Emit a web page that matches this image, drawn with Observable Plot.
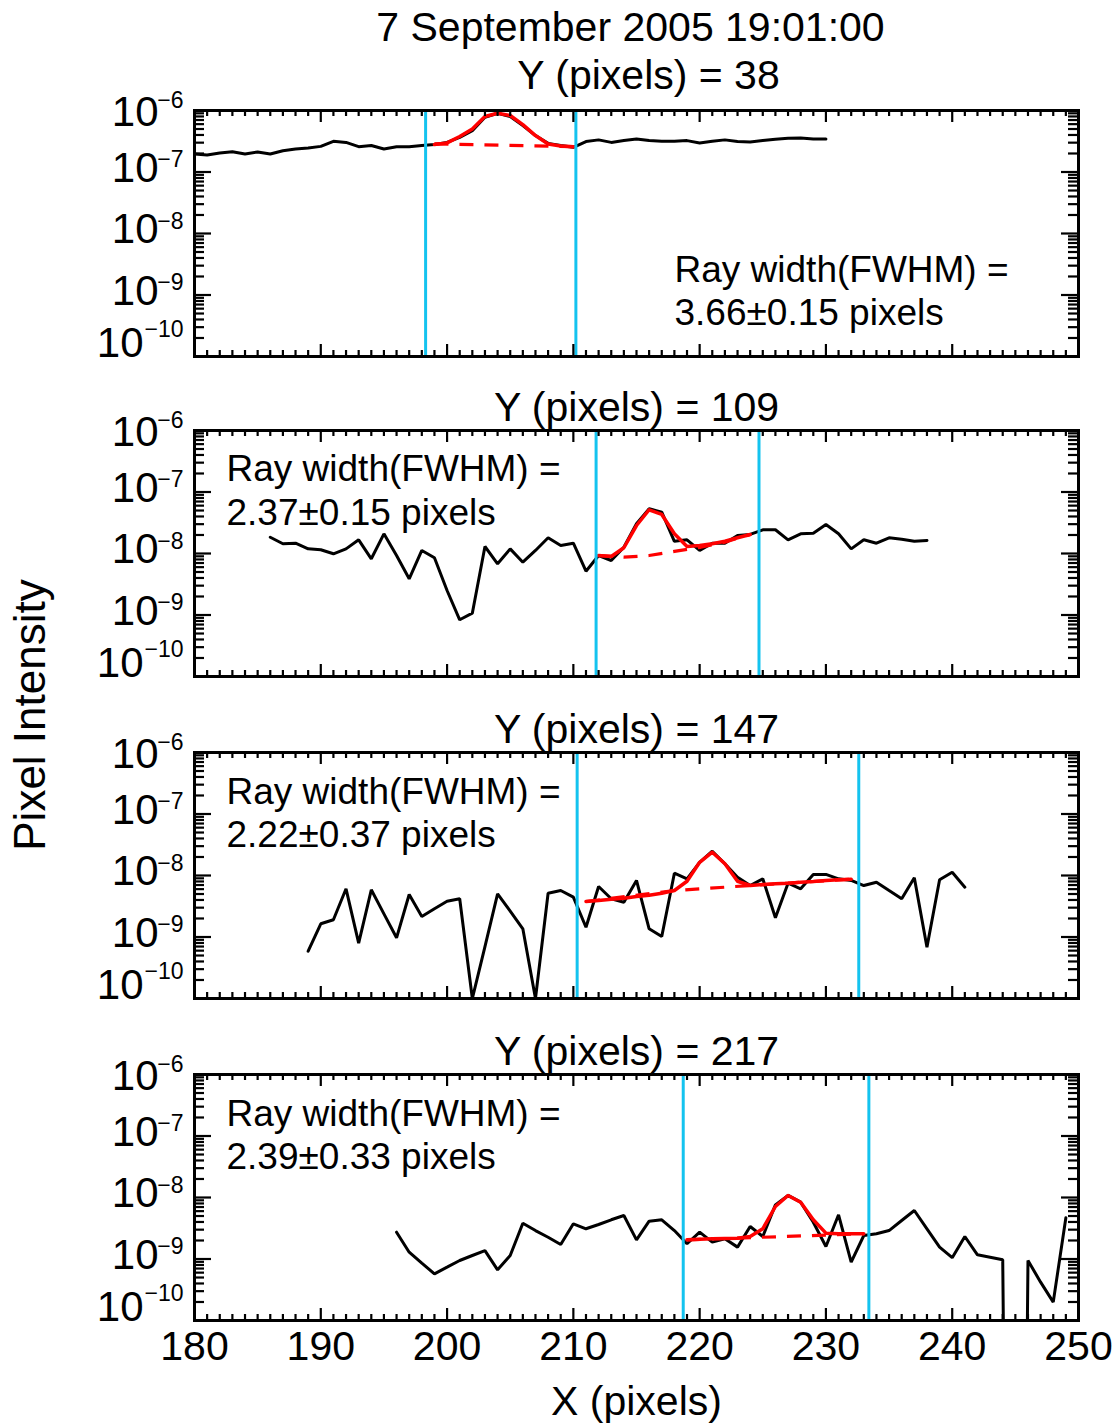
<!DOCTYPE html>
<html>
<head>
<meta charset="utf-8">
<script src="https://cdn.jsdelivr.net/npm/d3@7"></script>
<script src="https://cdn.jsdelivr.net/npm/@observablehq/plot@0.6"></script>
<style>
  html, body { margin: 0; padding: 0; background: white; }
  #chart { position: relative; width: 1117px; height: 1423px; background: white; overflow: hidden; }
  #chart svg { position: absolute; left: 0; }
  #ytitle { position: absolute; left: 30px; top: 715px; transform: translate(-50%, -50%) rotate(-90deg); z-index: 10;
            font-family: "Liberation Sans", Arial, Helvetica, sans-serif; font-size: 44px; line-height: 1; white-space: nowrap; color: black; }
</style>
</head>
<body>
<div id="chart"><div id="ytitle">Pixel Intensity</div></div>
<script>
// ---------------- DATA ----------------
const mainTitle = "7 September 2005 19:01:00";
const panelTitles = ["Y (pixels) = 38", "Y (pixels) = 109", "Y (pixels) = 147", "Y (pixels) = 217"];
const widthLine1 = "Ray width(FWHM) =";
const widthLine2 = ["3.66±0.15 pixels", "2.37±0.15 pixels", "2.22±0.37 pixels", "2.39±0.33 pixels"];
const xTitle = "X (pixels)";

// Panel 1 (Y = 38)
const p1X = [180,181,182,183,184,185,186,187,188,189,190,191,192,193,194,195,196,197,198,199,200,201,202,203,204,205,206,207,208,209,210,211,212,213,214,215,216,217,218,219,220,221,222,223,224,225,226,227,228,229,230];
const p1Y = [1.96e-7,1.89e-7,2.04e-7,2.14e-7,1.96e-7,2.12e-7,1.96e-7,2.22e-7,2.37e-7,2.46e-7,2.61e-7,
             3.16e-7,3.03e-7,2.58e-7,2.69e-7,2.37e-7,2.58e-7,2.58e-7,2.69e-7,2.79e-7,3.03e-7,
             3.66e-7,4.71e-7,7.78e-7,9.04e-7,7.98e-7,5.69e-7,3.91e-7,2.92e-7,2.69e-7,2.52e-7,
             3.12e-7,3.33e-7,3.03e-7,3.24e-7,3.45e-7,3.24e-7,3.16e-7,3.16e-7,3.24e-7,2.97e-7,
             3.16e-7,3.33e-7,3.12e-7,3.08e-7,3.24e-7,3.40e-7,3.53e-7,3.58e-7,3.45e-7,3.45e-7];
const p1FitX = [199,200,201,202,203,204,205,206,207,208,209,210];
const p1FitY = [2.79e-7,2.97e-7,3.77e-7,5.02e-7,7.98e-7,9.04e-7,8.28e-7,5.90e-7,3.91e-7,2.86e-7,2.65e-7,2.58e-7];
const p1BgX = [199,210];
const p1BgY = [2.86e-7,2.58e-7];
const p1Bounds = [198.3, 210.2];

// Panel 2 (Y = 109)
const p2X = [186,187,188,189,190,191,192,193,194,195,196,197,198,199,200,201,202,203,204,205,206,207,208,209,210,211,212,213,214,215,216,217,218,219,220,221,222,223,224,225,226,227,228,229,230,231,232,233,234,235,236,237,238];
const p2Y = [1.84e-8,1.44e-8,1.47e-8,1.19e-8,1.15e-8,
             9.89e-9,1.19e-8,1.67e-8,8.20e-9,2.09e-8,9.27e-9,3.88e-9,1.12e-8,8.51e-9,2.50e-9,
             8.36e-10,1.07e-9,1.30e-8,6.81e-9,1.19e-8,7.22e-9,1.12e-8,1.80e-8,1.35e-8,1.47e-8,
             5.15e-9,9.27e-9,7.69e-9,1.26e-8,3.04e-8,5.33e-8,4.70e-8,1.58e-8,1.67e-8,1.12e-8,
             1.47e-8,1.47e-8,1.96e-8,2.04e-8,2.43e-8,2.43e-8,1.67e-8,2.09e-8,2.14e-8,2.96e-8,
             2.09e-8,1.19e-8,1.67e-8,1.47e-8,1.80e-8,1.71e-8,1.58e-8,1.63e-8];
const p2FitX = [212,213,214,215,216,217,218,219,220,221,222,223,224];
const p2FitY = [9.27e-9,8.94e-9,1.24e-8,2.85e-8,5.14e-8,4.31e-8,2.09e-8,1.30e-8,1.35e-8,1.44e-8,1.58e-8,1.80e-8,2.04e-8];
const p2BgX = [212,214,216,218,220,222,224];
const p2BgY = [9.27e-9,8.71e-9,9.27e-9,1.08e-8,1.26e-8,1.53e-8,2.04e-8];
const p2Bounds = [211.8, 224.7];

// Panel 3 (Y = 147)
const p3X = [189,190,191,192,193,194,195,196,197,198,199,200,201,202,203,204,205,206,207,208,209,210,211,212,213,214,215,216,217,218,219,220,221,222,223,224,225,226,227,228,229,230,231,232,233,234,235,236,237,238,239,240,241];
const p3Y = [5.87e-10,1.64e-9,1.91e-9,6.08e-9,7.93e-10,5.85e-9,2.38e-9,9.7e-10,4.91e-9,2.15e-9,2.88e-9,3.82e-9,
             4.18e-9,1.0e-10,7.0e-10,5.04e-9,2.63e-9,1.36e-9,1.0e-10,5.15e-9,5.70e-9,4.44e-9,
             1.44e-9,6.62e-9,4.18e-9,3.68e-9,8.30e-9,1.36e-9,1.02e-9,1.09e-8,8.83e-9,1.64e-8,
             2.48e-8,1.55e-8,9.38e-9,6.87e-9,8.83e-9,2.05e-9,7.50e-9,6.08e-9,1.04e-8,1.04e-8,
             8.83e-9,8.30e-9,6.87e-9,7.78e-9,5.70e-9,4.18e-9,9.18e-9,6.82e-10,8.51e-9,1.13e-8,6.46e-9];
const p3FitX = [211,212,213,214,215,216,217,218,219,220,221,222,223,224,225,226,227,228,229,230,231,232];
const p3FitY = [3.78e-9,3.92e-9,4.12e-9,4.28e-9,4.56e-9,4.79e-9,5.15e-9,5.70e-9,8.07e-9,1.64e-8,2.39e-8,
                1.55e-8,8.07e-9,6.87e-9,7.14e-9,7.33e-9,7.50e-9,7.78e-9,7.98e-9,8.30e-9,8.51e-9,8.71e-9];
const p3BgX = [211,218,224,232];
const p3BgY = [3.78e-9,5.70e-9,6.87e-9,8.71e-9];
const p3Bounds = [210.3, 232.6];

// Panel 4 (Y = 217)
const p4X = [196,197,198,199,200,201,202,203,204,205,206,207,208,209,210,211,212,213,214,215,216,217,218,219,220,221,222,223,224,225,226,227,228,229,230,231,232,233,234,235,236,237,238,239,240,241,242,243,244,245,246,247,248,249];
const p4Y = [2.73e-9,1.29e-9,8.55e-10,5.74e-10,7.36e-10,9.46e-10,1.14e-9,1.37e-9,6.67e-10,1.14e-9,
             3.82e-9,2.90e-9,2.26e-9,1.72e-9,3.73e-9,3.10e-9,3.64e-9,4.34e-9,5.09e-9,2.05e-9,
             4.12e-9,4.34e-9,2.90e-9,1.77e-9,2.73e-9,1.88e-9,2.13e-9,1.56e-9,3.37e-9,2.32e-9,
             7.60e-9,1.08e-8,8.39e-9,3.96e-9,1.60e-9,5.24e-9,8.87e-10,2.41e-9,2.57e-9,2.90e-9,
             4.23e-9,6.15e-9,3.10e-9,1.56e-9,1.05e-9,2.32e-9,1.17e-9,1.07e-9,9.7e-10,1e-30,
             9.46e-10,4.20e-10,1.99e-10,4.68e-9];
const p4FitX = [219,220,221,222,223,224,225,226,227,228,229,230,231,232,233];
const p4FitY = [2.05e-9,2.10e-9,2.13e-9,2.15e-9,2.18e-9,2.32e-9,3.10e-9,7.14e-9,1.08e-8,8.39e-9,4.34e-9,2.63e-9,2.57e-9,2.57e-9,2.57e-9];
const p4BgX = [219,233];
const p4BgY = [2.05e-9,2.57e-9];
const p4Bounds = [218.7, 233.4];

// Axis ticks / labels
const xMajorTicks = [180,190,200,210,220,230,240,250];
const xTickLabels = ["180","190","200","210","220","230","240","250"];
const xMinorTicks = d3.range(181, 250).filter(v => v % 10 !== 0);
const yMajorTicks = [1e-10, 1e-9, 1e-8, 1e-7, 1e-6];
const yTickExponents = ["−10", "−9", "−8", "−7", "−6"];
const yMinorTicks = [1e-10, 1e-9, 1e-8, 1e-7].flatMap(d => [2,3,4,5,6,7,8,9].map(m => d * m));

// ---------------- DRAW ----------------
const rows = (xs, ys) => xs.map((x, i) => ({x, y: ys[i]}));
const panels = [
  {data: rows(p1X, p1Y), fit: rows(p1FitX, p1FitY), bg: rows(p1BgX, p1BgY), bounds: p1Bounds},
  {data: rows(p2X, p2Y), fit: rows(p2FitX, p2FitY), bg: rows(p2BgX, p2BgY), bounds: p2Bounds},
  {data: rows(p3X, p3Y), fit: rows(p3FitX, p3FitY), bg: rows(p3BgX, p3BgY), bounds: p3Bounds},
  {data: rows(p4X, p4Y), fit: rows(p4FitX, p4FitY), bg: rows(p4BgX, p4BgY), bounds: p4Bounds}
];
const FONT = '"Liberation Sans", Arial, Helvetica, sans-serif';
const FRAME_H = 246, FRAME_W = 884;
const layouts = [
  {top: 0, height: 392, marginTop: 110, annDx: 480, annDy1: 171, annDy2: 214},
  {top: 392, height: 322, marginTop: 38, annDx: 32, annDy1: 50, annDy2: 94},
  {top: 714, height: 322, marginTop: 38, annDx: 32, annDy1: 51, annDy2: 94},
  {top: 1036, height: 387, marginTop: 38, annDx: 32, annDy1: 51, annDy2: 94}
];
const yLab = yMajorTicks.map((v, i) => ({v, exp: yTickExponents[i]}));
const CYAN = "#14c3ef";

const chart = document.getElementById("chart");
panels.forEach((p, i) => {
  const L = layouts[i];
  const marks = [
    Plot.line(p.data, {x: "x", y: "y", stroke: "black", strokeWidth: 3, strokeLinejoin: "miter", clip: true}),
    Plot.line(p.bg, {x: "x", y: "y", stroke: "red", strokeWidth: 3.2, strokeDasharray: "14,11", strokeLinecap: "butt", clip: true}),
    Plot.line(p.fit, {x: "x", y: "y", stroke: "red", strokeWidth: 3.5, clip: true}),
    Plot.ruleX(p.bounds, {stroke: CYAN, strokeWidth: 3}),
    // inward ticks on all four sides
    Plot.tickX(xMajorTicks, {insetTop: FRAME_H - 12, stroke: "black", strokeWidth: 2.2}),
    Plot.tickX(xMajorTicks, {insetBottom: FRAME_H - 12, stroke: "black", strokeWidth: 2.2}),
    Plot.tickX(xMinorTicks, {insetTop: FRAME_H - 6, stroke: "black", strokeWidth: 2.2}),
    Plot.tickX(xMinorTicks, {insetBottom: FRAME_H - 6, stroke: "black", strokeWidth: 2.2}),
    Plot.tickY(yMajorTicks, {insetRight: FRAME_W - 17, stroke: "black", strokeWidth: 2.2}),
    Plot.tickY(yMajorTicks, {insetLeft: FRAME_W - 17, stroke: "black", strokeWidth: 2.2}),
    Plot.tickY(yMinorTicks, {insetRight: FRAME_W - 10, stroke: "black", strokeWidth: 2.2}),
    Plot.tickY(yMinorTicks, {insetLeft: FRAME_W - 10, stroke: "black", strokeWidth: 2.2}),
    Plot.frame({stroke: "black", strokeWidth: 3}),
    // y tick labels: "10" with superscript exponent
    Plot.text(yLab.slice(1, 4), {y: "v", text: () => "10", frameAnchor: "left", textAnchor: "end", dx: -36, dy: -3.5, fontSize: 42}),
    Plot.text(yLab.slice(1, 4), {y: "v", text: "exp", frameAnchor: "left", textAnchor: "end", dx: -11, dy: -12, fontSize: 23}),
    Plot.text(yLab.slice(4), {y: "v", text: () => "10", frameAnchor: "left", textAnchor: "end", dx: -36, dy: 2.5, fontSize: 42}),
    Plot.text(yLab.slice(4), {y: "v", text: "exp", frameAnchor: "left", textAnchor: "end", dx: -11, dy: -10, fontSize: 23}),
    Plot.text(yLab.slice(0, 1), {y: "v", text: () => "10", frameAnchor: "left", textAnchor: "end", dx: -51, dy: -13, fontSize: 42}),
    Plot.text(yLab.slice(0, 1), {y: "v", text: "exp", frameAnchor: "left", textAnchor: "end", dx: -11, dy: -27, fontSize: 23}),
    // FWHM annotation (two lines)
    Plot.text([widthLine1], {frameAnchor: "top-left", textAnchor: "start", lineAnchor: "bottom", dx: L.annDx, dy: L.annDy1, fontSize: 37}),
    Plot.text([widthLine2[i]], {frameAnchor: "top-left", textAnchor: "start", lineAnchor: "bottom", dx: L.annDx, dy: L.annDy2, fontSize: 37})
  ];
  if (i === 0) {
    marks.push(Plot.text([mainTitle], {frameAnchor: "top", lineAnchor: "bottom", dx: -6, dy: -70, fontSize: 41}));
    marks.push(Plot.text([panelTitles[i]], {frameAnchor: "top", lineAnchor: "bottom", dx: 12, dy: -22, fontSize: 41}));
  } else {
    marks.push(Plot.text([panelTitles[i]], {frameAnchor: "top", lineAnchor: "bottom", dy: -10, fontSize: 41}));
  }
  if (i === 3) {
    marks.push(Plot.text(xMajorTicks, {x: d => d, text: (d, j) => xTickLabels[j], frameAnchor: "bottom", lineAnchor: "top", dy: 10, fontSize: 41}));
    marks.push(Plot.text([xTitle], {frameAnchor: "bottom", lineAnchor: "bottom", dy: 94, fontSize: 41}));
  }
  const svg = Plot.plot({
    width: 1117,
    height: L.height,
    marginTop: L.marginTop,
    marginBottom: L.height - L.marginTop - FRAME_H,
    marginLeft: 194,
    marginRight: 39,
    x: {domain: [180, 250], axis: null},
    y: {type: "log", domain: [1e-10, 1e-6], axis: null},
    style: {fontFamily: FONT, background: "transparent", color: "black", overflow: "visible"},
    marks
  });
  svg.style.top = L.top + "px";
  chart.appendChild(svg);
});
</script>
</body>
</html>
